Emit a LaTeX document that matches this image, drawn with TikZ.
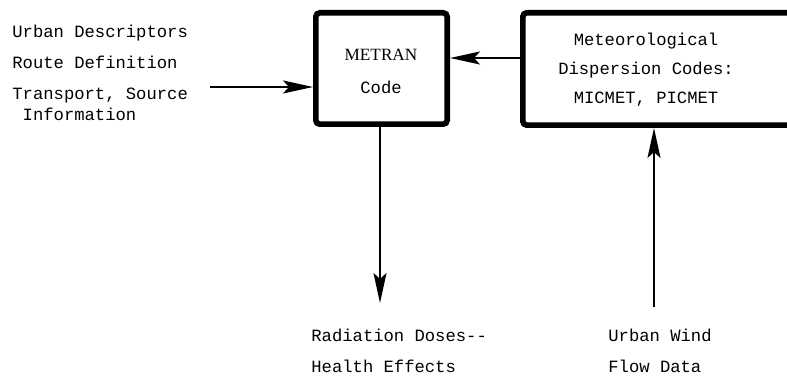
\documentclass[tikz,border=0pt]{standalone}
\usepackage{fontspec}
\setmainfont{Liberation Mono}
\newfontfamily\boxserif{Liberation Serif}
\usetikzlibrary{arrows.meta}
\tikzset{>={Stealth[length=15pt,width=6.5pt,inset=3pt]}}
\tikzset{%
    codebox/.style={draw, line width=2.8pt, rounded corners=2pt, inner sep=0pt},
    openbox/.style={line width=2.8pt, rounded corners=2pt},
    flow/.style={->, line width=1pt},
    words/.style={font=\fontsize{8.6}{15.5}\selectfont, inner sep=0pt}
}

\begin{document}
\begin{tikzpicture}[x=0.5pt,y=-0.5pt]
\useasboundingbox (0,0) rectangle (787,378);
\clip (0,0) rectangle (787,378);

% code boxes
\node[codebox, minimum width=65.7pt, minimum height=55.7pt] (metran) at (381.5,68.5) {};
\node[words, align=center] (metrantext) at (381,71) {{\boxserif\fontsize{8.6}{16}\selectfont METRAN}\\[1pt]Code};
\node[inner sep=0pt, outer sep=1.4pt, minimum width=300pt, minimum height=56.2pt, anchor=north west] (met) at (520,10) {};
\draw[openbox] ([shift={(1.4pt,-1.4pt)}]met.north east) -- ([shift={(1.4pt,-1.4pt)}]met.north west)
    -- ([shift={(1.4pt,1.4pt)}]met.south west) -- ([shift={(1.4pt,1.4pt)}]met.south east);
\node[words, align=center, font=\fontsize{8.6}{14.5}\selectfont] (mettext) at (646,70) {Meteorological\\Dispersion Codes:\\MICMET, PICMET};

% texts
\node[words, align=left, anchor=north west] (inputs) at (12,25) {Urban Descriptors\\Route Definition\\Transport, Source\\[-5pt]~Information};
\node[words, align=left, anchor=north west] (doses) at (311,329) {Radiation Doses-{}-\\Health Effects};
\node[words, align=left, anchor=north west] (wind) at (608,329) {Urban Wind\\Flow Data};

\coordinate (srctail) at (210,87);
\coordinate (dosetip) at (380,303);
\coordinate (windtail) at (654,307);

% arrows
\draw[flow] (srctail) -- (srctail -| metran.west);
\draw[flow] ([yshift=5.5pt]met.west) -- ([yshift=5.5pt]met.west -| metran.east);
\draw[flow] (metran.south -| dosetip) -- (dosetip);
\draw[flow] (windtail) -- (windtail |- met.south);
\end{tikzpicture}
\end{document}
